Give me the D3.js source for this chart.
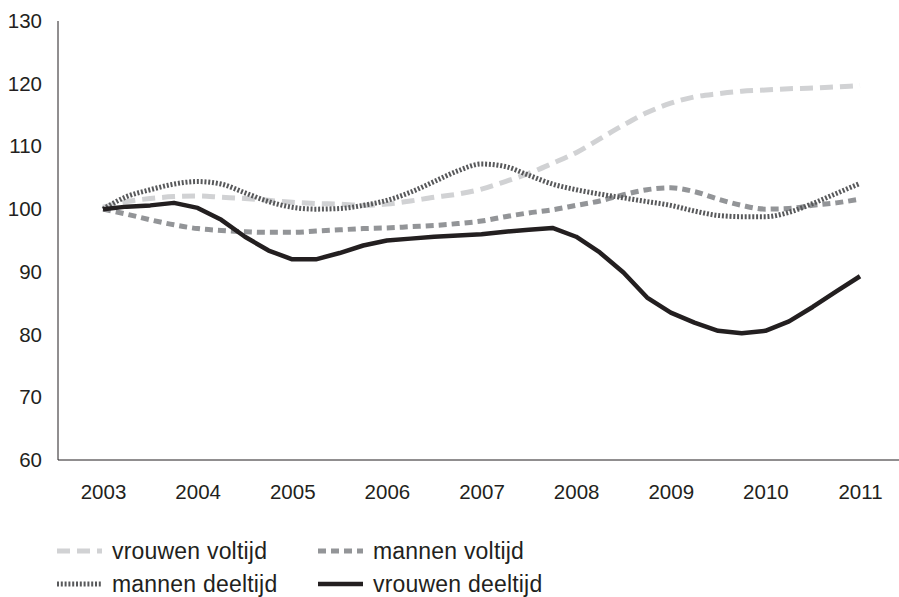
<!DOCTYPE html>
<html>
<head>
<meta charset="utf-8">
<script src="https://cdn.jsdelivr.net/npm/d3@7"></script>
<style>
  html, body { margin: 0; padding: 0; background: #fff; }
  svg { display: block; }
  text { font-family: "Liberation Sans", Arial, Helvetica, sans-serif; fill: #231f20; }
</style>
</head>
<body>
<svg id="chart" width="899" height="597"></svg>
<script>
// ---- data (quarterly index, 2003 = 100) ----
const years = [2003, 2004, 2005, 2006, 2007, 2008, 2009, 2010, 2011];
const yTicks = [60, 70, 80, 90, 100, 110, 120, 130];
const quarters = d3.range(33).map(i => 2003 + i / 4);

const vrouwenVoltijd = [100.3, 101.2, 101.7, 102.0, 102.1, 101.9, 101.7, 101.4, 101.1, 100.9, 100.8, 100.6, 100.8, 101.3, 101.9, 102.4, 103.2, 104.4, 105.7, 107.3, 109.0, 111.2, 113.4, 115.4, 116.9, 117.9, 118.4, 118.8, 119.0, 119.2, 119.3, 119.5, 119.7];
const mannenVoltijd = [100.0, 99.2, 98.3, 97.5, 96.9, 96.6, 96.4, 96.3, 96.3, 96.5, 96.7, 96.9, 97.0, 97.2, 97.4, 97.7, 98.1, 98.8, 99.4, 99.9, 100.6, 101.3, 102.3, 103.1, 103.4, 102.8, 101.6, 100.6, 100.0, 100.1, 100.6, 101.0, 101.6];
const mannenDeeltijd = [100.0, 102.0, 103.1, 104.0, 104.4, 104.0, 102.6, 101.2, 100.3, 100.0, 100.1, 100.6, 101.4, 102.7, 104.4, 106.1, 107.2, 106.8, 105.4, 104.0, 103.1, 102.4, 101.8, 101.2, 100.6, 99.7, 99.0, 98.8, 98.8, 99.5, 100.9, 102.5, 104.1];
const vrouwenDeeltijd = [100.0, 100.4, 100.6, 101.0, 100.2, 98.3, 95.6, 93.4, 92.0, 92.0, 93.0, 94.2, 95.0, 95.3, 95.6, 95.8, 96.0, 96.4, 96.7, 97.0, 95.6, 93.1, 89.9, 85.9, 83.5, 81.9, 80.6, 80.2, 80.6, 82.1, 84.4, 86.9, 89.3];

const seriesNames = ["vrouwen voltijd", "mannen voltijd", "mannen deeltijd", "vrouwen deeltijd"];
const seriesValues = [vrouwenVoltijd, mannenVoltijd, mannenDeeltijd, vrouwenDeeltijd];

// ---- styles ----
const styles = {
  "vrouwen voltijd":  { color: "#d1d2d4", width: 5, dash: "13,7", curve: d3.curveMonotoneX },
  "mannen voltijd":   { color: "#939598", width: 5, dash: "8,5", curve: d3.curveMonotoneX },
  "mannen deeltijd":  { color: "#58595b", width: 5, dash: "2,1.8", curve: d3.curveMonotoneX },
  "vrouwen deeltijd": { color: "#231f20", width: 4.5, dash: null, curve: d3.curveLinear }
};

const svg = d3.select("#chart");

const x = d3.scaleLinear().domain([2003, 2011]).range([103, 860]);
const y = d3.scaleLinear().domain([60, 130]).range([460, 21]);

// axis lines
svg.append("line").attr("x1", 58).attr("x2", 58).attr("y1", 21).attr("y2", 460)
  .attr("stroke", "#231f20").attr("stroke-width", 1);
svg.append("line").attr("x1", 58).attr("x2", 899).attr("y1", 460).attr("y2", 460)
  .attr("stroke", "#231f20").attr("stroke-width", 1);

// y axis labels
const yAxis = d3.axisLeft(y).tickValues(yTicks).tickSize(0).tickPadding(16).tickFormat(d3.format("d"));
const gy = svg.append("g").attr("transform", "translate(58,0)").call(yAxis);
gy.select(".domain").remove();
gy.selectAll("text").style("font-size", "20.5px").attr("fill", "#231f20")
  .style("font-family", "'Liberation Sans', Arial, sans-serif");

// x axis labels
const xAxis = d3.axisBottom(x).tickValues(years).tickSize(0).tickPadding(24).tickFormat(d3.format("d"));
const gx = svg.append("g").attr("transform", "translate(0,460)").call(xAxis);
gx.select(".domain").remove();
gx.selectAll("text").style("font-size", "20.5px").attr("fill", "#231f20")
  .style("font-family", "'Liberation Sans', Arial, sans-serif");

// lines
seriesNames.forEach((name, k) => {
  const st = styles[name];
  const line = d3.line().x((d, i) => x(quarters[i])).y(d => y(d)).curve(st.curve);
  svg.append("path")
    .datum(seriesValues[k])
    .attr("d", line)
    .attr("fill", "none")
    .attr("stroke", st.color)
    .attr("stroke-width", st.width)
    .attr("stroke-dasharray", st.dash)
    .attr("stroke-linejoin", "round");
});

// legend
const legendPos = [
  { name: "vrouwen voltijd",  x: 57,  y: 551 },
  { name: "mannen voltijd",   x: 318, y: 551 },
  { name: "mannen deeltijd",  x: 57,  y: 584 },
  { name: "vrouwen deeltijd", x: 318, y: 584 }
];
legendPos.forEach(p => {
  const st = styles[p.name];
  svg.append("line")
    .attr("x1", p.x).attr("x2", p.x + 45).attr("y1", p.y).attr("y2", p.y)
    .attr("stroke", st.color).attr("stroke-width", st.width)
    .attr("stroke-dasharray", st.dash);
  svg.append("text")
    .attr("x", p.x + 55).attr("y", p.y).attr("dy", "0.36em")
    .style("font-size", "23px")
    .style("letter-spacing", "0.2px")
    .text(p.name);
});
</script>
</body>
</html>
